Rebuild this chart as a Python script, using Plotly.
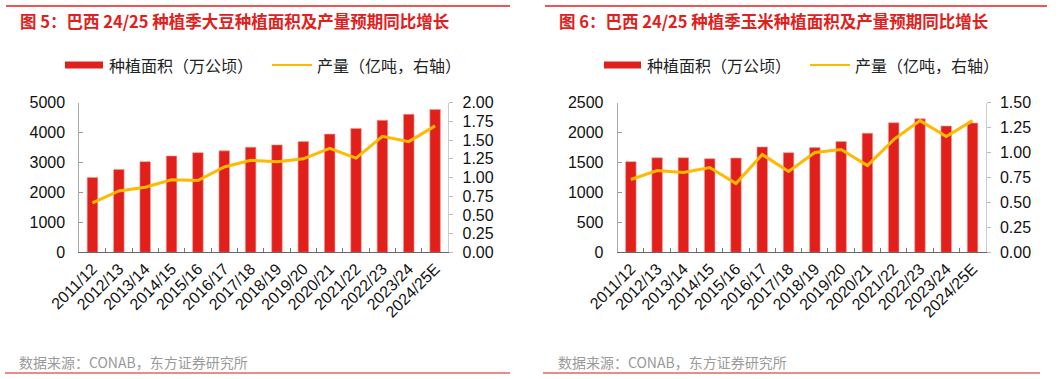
import plotly.graph_objects as go

W, H = 1061, 379

seasons = ["2011/12", "2012/13", "2013/14", "2014/15", "2015/16", "2016/17", "2017/18",
           "2018/19", "2019/20", "2020/21", "2021/22", "2022/23", "2023/24", "2024/25E"]

soy_area = [2500, 2770, 3030, 3220, 3330, 3390, 3510, 3590, 3700, 3950, 4140, 4410, 4610, 4770]
soy_prod = [0.66, 0.82, 0.87, 0.97, 0.96, 1.14, 1.23, 1.21, 1.25, 1.39, 1.26, 1.55, 1.48, 1.69]

corn_area = [1515, 1580, 1580, 1565, 1575, 1760, 1665, 1750, 1850, 1990, 2165, 2230, 2110, 2160]
corn_prod = [0.73, 0.82, 0.80, 0.85, 0.69, 0.98, 0.81, 1.00, 1.03, 0.87, 1.13, 1.32, 1.16, 1.32]

titles = ["图 5：巴西 24/25 种植季大豆种植面积及产量预期同比增长",
          "图 6：巴西 24/25 种植季玉米种植面积及产量预期同比增长"]
legend_area = "种植面积（万公顷）"
legend_prod = "产量（亿吨，右轴）"
source = "数据来源：CONAB，东方证券研究所"

RED = "#e2201b"
YEL = "#ffb900"
FONT = "Liberation Sans, Arial, Noto Sans CJK SC, sans-serif"
CJK = "Noto Sans CJK SC, sans-serif"

def px_x(x):
    return x / W

def px_y(y):
    return 1 - y / H

fig = go.Figure()

fig.add_trace(go.Bar(x=seasons, y=soy_area, marker=dict(color=RED, line=dict(color="#f29a96", width=0.6)),
                     width=0.4, xaxis="x", yaxis="y", showlegend=False))
fig.add_trace(go.Scatter(x=seasons, y=soy_prod, mode="lines", line=dict(color=YEL, width=3),
                         xaxis="x", yaxis="y2", showlegend=False))
fig.add_trace(go.Bar(x=seasons, y=corn_area, marker=dict(color=RED, line=dict(color="#f29a96", width=0.6)),
                     width=0.4, xaxis="x2", yaxis="y3", showlegend=False))
fig.add_trace(go.Scatter(x=seasons, y=corn_prod, mode="lines", line=dict(color=YEL, width=3),
                         xaxis="x2", yaxis="y4", showlegend=False))

ydom = [px_y(252.3), px_y(102.7)]
left_dom = [px_x(79.3), px_x(448.3)]
right_dom = [px_x(617.7), px_x(985.7)]

tickfont = dict(family=FONT, size=16, color="#111")
xtickfont = dict(family=FONT, size=16, color="#111")

def xax(domain, anchor):
    return dict(domain=domain, anchor=anchor, type="category", tickangle=-45,
                ticks="inside", tickson="boundaries", ticklen=4, tickcolor="#777",
                showline=True, linecolor="#666", linewidth=1, showgrid=False,
                tickfont=xtickfont, zeroline=False, automargin=False)

def ylax(anchor, rng, dtick, fmt):
    return dict(domain=ydom, anchor=anchor, range=rng, dtick=dtick, tickformat=fmt,
                ticks="inside", ticklen=4, tickcolor="#999", showline=True,
                linecolor="#aaa", linewidth=1, showgrid=False, zeroline=False,
                tickfont=tickfont, ticklabelstandoff=10, automargin=False)

def yrax(anchor, overlay, rng, dtick):
    return dict(domain=ydom, anchor=anchor, overlaying=overlay, side="right", range=rng,
                dtick=dtick, tickformat=".2f", ticks="outside", ticklen=4, tickcolor="#bbb",
                showline=True, linecolor="#ccc", linewidth=1, showgrid=False, zeroline=False,
                tickfont=tickfont, ticklabelstandoff=6, automargin=False)

shapes = []
annotations = []

panels = [
    dict(title_x=18, leg_rect=(65, 103), leg_text1=107, leg_line=(272, 312), leg_text2=315,
         src_x=17, top=(6, 510), bot=(5, 510)),
    dict(title_x=557, leg_rect=(604, 641), leg_text1=645, leg_line=(810, 850), leg_text2=853,
         src_x=556, top=(545, 1047), bot=(543, 1040)),
]

for i, p in enumerate(panels):
    shapes.append(dict(type="line", xref="paper", yref="paper",
                       x0=px_x(p["top"][0]), x1=px_x(p["top"][1]), y0=px_y(6), y1=px_y(6),
                       line=dict(color=RED, width=1.3)))
    shapes.append(dict(type="line", xref="paper", yref="paper",
                       x0=px_x(p["bot"][0]), x1=px_x(p["bot"][1]), y0=px_y(373), y1=px_y(373),
                       line=dict(color="#f08a88", width=2)))
    annotations.append(dict(text="<b>" + titles[i] + "</b>", xref="paper", yref="paper",
                            x=px_x(p["title_x"]), y=px_y(20.5), xanchor="left", yanchor="middle",
                            showarrow=False, font=dict(family=CJK, size=16.5, color=RED)))
    shapes.append(dict(type="rect", xref="paper", yref="paper",
                       x0=px_x(p["leg_rect"][0]), x1=px_x(p["leg_rect"][1]),
                       y0=px_y(68.5), y1=px_y(61.5), fillcolor=RED, line=dict(width=0)))
    annotations.append(dict(text=legend_area, xref="paper", yref="paper",
                            x=px_x(p["leg_text1"]), y=px_y(64.5), xanchor="left", yanchor="middle",
                            showarrow=False, font=dict(family=CJK, size=16, color="#222")))
    shapes.append(dict(type="line", xref="paper", yref="paper",
                       x0=px_x(p["leg_line"][0]), x1=px_x(p["leg_line"][1]),
                       y0=px_y(65), y1=px_y(65), line=dict(color=YEL, width=2)))
    annotations.append(dict(text=legend_prod, xref="paper", yref="paper",
                            x=px_x(p["leg_text2"]), y=px_y(64.5), xanchor="left", yanchor="middle",
                            showarrow=False, font=dict(family=CJK, size=16, color="#222")))
    annotations.append(dict(text=source, xref="paper", yref="paper",
                            x=px_x(p["src_x"]), y=px_y(361.5), xanchor="left", yanchor="middle",
                            showarrow=False, font=dict(family=CJK, size=14, color="#9a9a9a")))

fig.update_layout(
    width=W, height=H,
    margin=dict(l=0, r=0, t=0, b=0, pad=0, autoexpand=False),
    paper_bgcolor="white", plot_bgcolor="white",
    bargap=0.6,
    xaxis=xax(left_dom, "y"),
    yaxis=ylax("x", [0, 5000], 1000, "d"),
    yaxis2=yrax("x", "y", [0, 2], 0.25),
    xaxis2=xax(right_dom, "y3"),
    yaxis3=ylax("x2", [0, 2500], 500, "d"),
    yaxis4=yrax("x2", "y3", [0, 1.5], 0.25),
    shapes=shapes,
    annotations=annotations,
)

fig.write_html("out.html", config={"displayModeBar": False},
               post_script="document.body.style.margin='0';document.body.style.overflow='hidden';")
